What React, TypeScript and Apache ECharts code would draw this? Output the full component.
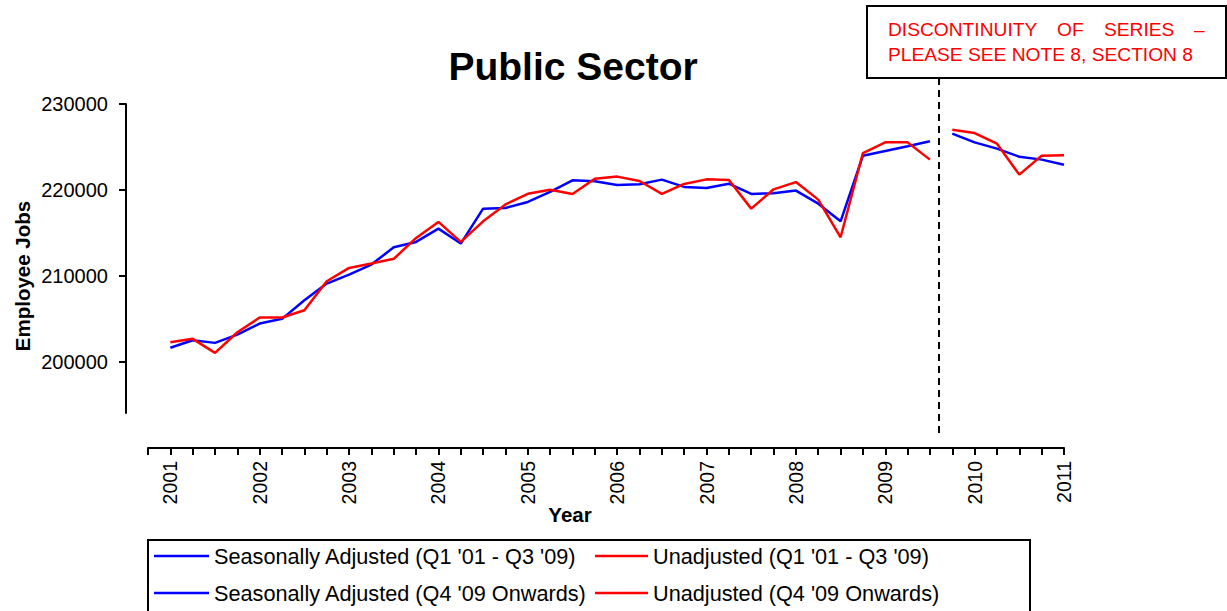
import React, { useEffect, useRef } from "react";
import * as echarts from "echarts";

// Quarterly index 0 = Q1 2001 ... 40 = Q1 2011
const yearLabels = ["2001","2002","2003","2004","2005","2006","2007","2008","2009","2010","2011"];
const yTickValues = [200000, 210000, 220000, 230000];

const saPre = [
  201600, 202480, 202170, 203140, 204420, 204970, 207140, 209080, 210130, 211290,
  213310, 213930, 215480, 213740, 217810, 217890, 218590, 219750, 221110, 220990,
  220570, 220640, 221190, 220340, 220220, 220720, 219520, 219600, 219910, 218390,
  216330, 223980, 224530, 225070, 225650,
];
const uaPre = [
  202250, 202640, 201010, 203410, 205120, 205120, 205970, 209350, 210900, 211410,
  211960, 214400, 216260, 213930, 216330, 218300, 219540, 220020, 219520, 221300,
  221540, 221030, 219520, 220690, 221220, 221140, 217810, 220060, 220900, 218860,
  214470, 224290, 225530, 225530, 223520,
];
const saPost = [226540, 225530, 224800, 223860, 223520, 222930];
const uaPost = [227010, 226620, 225380, 221770, 223980, 224020];
const postStart = 35;

const names = [
  "Seasonally Adjusted (Q1 '01 - Q3 '09)",
  "Unadjusted (Q1 '01 - Q3 '09)",
  "Seasonally Adjusted (Q4 '09 Onwards)",
  "Unadjusted (Q4 '09 Onwards)",
];

const FONT = "'Liberation Sans', Arial, sans-serif";

export default function App() {
  const ref = useRef<HTMLDivElement>(null);
  useEffect(() => {
    if (!ref.current) return;
    const chart = echarts.init(ref.current, undefined, { renderer: "svg" });
    const pre = (arr: number[]) => arr.map((v, i) => [i, v]);
    const post = (arr: number[]) => arr.map((v, i) => [i + postStart, v]);
    const lineSeries = (name: string, data: number[][], color: string) => ({
      name,
      type: "line",
      data,
      symbol: "none",
      smooth: false,
      lineStyle: { color, width: 2.5 },
      itemStyle: { color },
    });
    const legendCommon = {
      orient: "vertical",
      top: 545,
      itemHeight: 20,
      itemGap: 15,
      padding: 0,
      icon: "path://M0,0H100V4.5H0Z",
      textStyle: { fontFamily: FONT, fontSize: 21.7, color: "#000" },
      selectedMode: false,
    };
    chart.setOption({
      animation: false,
      backgroundColor: "#fff",
      grid: { left: 148, right: 163, top: 104, bottom: 198 },
      xAxis: {
        type: "value",
        min: -1,
        max: 40,
        interval: 1,
        offset: 35,
        splitLine: { show: false },
        axisLine: { show: true, onZero: false, lineStyle: { color: "#000", width: 2 } },
        axisTick: { show: true, length: 7, lineStyle: { color: "#000", width: 2 } },
        axisLabel: {
          rotate: 90,
          margin: 13,
          fontFamily: FONT,
          fontSize: 19.5,
          color: "#000",
          formatter: (v: number) =>
            v >= 0 && v % 4 === 0 ? yearLabels[v / 4] ?? "" : "",
        },
      },
      yAxis: {
        type: "value",
        min: 194000,
        max: 230000,
        offset: 22,
        splitLine: { show: false },
        axisLine: { show: true, onZero: false, lineStyle: { color: "#000", width: 2 } },
        axisTick: {
          show: true,
          length: 7,
          customValues: yTickValues,
          lineStyle: { color: "#000", width: 2 },
        },
        axisLabel: {
          customValues: yTickValues,
          margin: 18,
          fontFamily: FONT,
          fontSize: 20,
          color: "#000",
          formatter: (v: number) => String(v),
        },
      },
      legend: [
        { ...legendCommon, left: 154, itemWidth: 55, data: [names[0], names[2]] },
        { ...legendCommon, left: 595, itemWidth: 53, data: [names[1], names[3]] },
      ],
      series: [
        lineSeries(names[0], pre(saPre), "#0000FF"),
        lineSeries(names[1], pre(uaPre), "#FF0000"),
        lineSeries(names[2], post(saPost), "#0000FF"),
        lineSeries(names[3], post(uaPost), "#FF0000"),
      ],
      graphic: [
        {
          type: "text",
          x: 573,
          y: 66,
          style: {
            text: "Public Sector",
            fontFamily: FONT,
            fontWeight: "bold",
            fontSize: 39,
            fill: "#000",
            textAlign: "center",
            textVerticalAlign: "middle",
          },
        },
        {
          type: "text",
          x: 22,
          y: 276,
          rotation: Math.PI / 2,
          style: {
            text: "Employee Jobs",
            fontFamily: FONT,
            fontWeight: "bold",
            fontSize: 20.5,
            fill: "#000",
            textAlign: "center",
            textVerticalAlign: "middle",
          },
        },
        {
          type: "text",
          x: 570,
          y: 514,
          style: {
            text: "Year",
            fontFamily: FONT,
            fontWeight: "bold",
            fontSize: 20.5,
            fill: "#000",
            textAlign: "center",
            textVerticalAlign: "middle",
          },
        },
        {
          type: "rect",
          shape: { x: 148, y: 540, width: 882, height: 80 },
          style: { fill: "none", stroke: "#000", lineWidth: 2 },
          z: -1,
        },
        {
          type: "line",
          shape: { x1: 939, y1: 78, x2: 939, y2: 436 },
          style: { stroke: "#000", lineWidth: 2, lineDash: [7, 5] },
        },
        {
          type: "rect",
          shape: { x: 867, y: 6, width: 359, height: 72 },
          style: { fill: "#fff", stroke: "#000", lineWidth: 2 },
        },
        ...[
          { t: "DISCONTINUITY", x: 888 },
          { t: "OF", x: 1057 },
          { t: "SERIES", x: 1104 },
          { t: "\u2013", x: 1194 },
        ].map((w) => ({
          type: "text",
          x: w.x,
          y: 29,
          style: {
            text: w.t,
            fontFamily: FONT,
            fontSize: 19.2,
            fill: "#FF0000",
            textAlign: "left",
            textVerticalAlign: "middle",
          },
        })),
        {
          type: "text",
          x: 888,
          y: 54,
          style: {
            text: "PLEASE SEE NOTE 8, SECTION 8",
            fontFamily: FONT,
            fontSize: 19.2,
            fill: "#FF0000",
            textAlign: "left",
            textVerticalAlign: "middle",
          },
        },
      ],
    });
    return () => chart.dispose();
  }, []);
  return (
    <div
      ref={ref}
      style={{ position: "fixed", left: 0, top: 0, width: 1227, height: 611 }}
    />
  );
}
